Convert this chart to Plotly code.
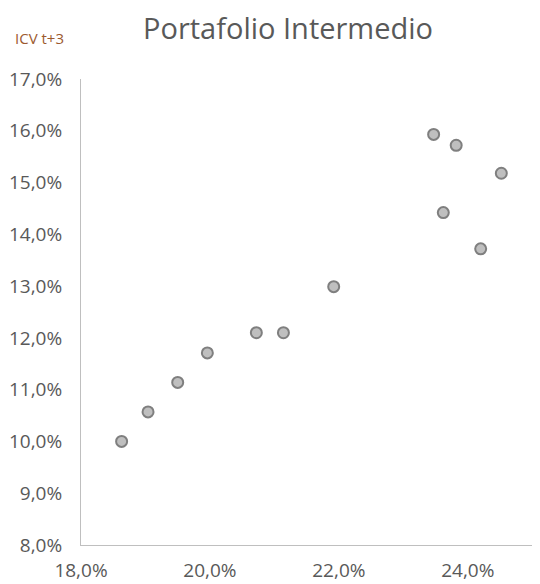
import plotly.graph_objects as go

# Data (percent values)
x_vals = [18.63, 19.04, 19.50, 19.96, 20.72, 21.14, 21.92, 23.47, 23.82, 24.52, 23.62, 24.20]
y_vals = [10.00, 10.57, 11.14, 11.71, 12.10, 12.10, 12.99, 15.93, 15.72, 15.18, 14.42, 13.72]

x_ticks = [18, 20, 22, 24]
x_ticktext = ["18,0%", "20,0%", "22,0%", "24,0%"]
y_ticks = [8, 9, 10, 11, 12, 13, 14, 15, 16, 17]
y_ticktext = ["8,0%", "9,0%", "10,0%", "11,0%", "12,0%", "13,0%", "14,0%", "15,0%", "16,0%", "17,0%"]

title_text = "Portafolio Intermedio"
y_label = "ICV t+3"

# The page body has an 8px margin, so the figure is sized/placed to compensate
OFF = 8
W, H = 540 - OFF, 584 - OFF
ML, MR, MT, MB = 81 - OFF, 0, 79 - OFF, 39

fig = go.Figure()
fig.add_trace(go.Scatter(
    x=x_vals, y=y_vals, mode="markers",
    marker=dict(size=11, color="#BFBFBF", line=dict(color="#7F7F7F", width=2)),
    showlegend=False, hoverinfo="x+y",
))

font_family = "Open Sans, Lato, sans-serif"

fig.update_layout(
    width=W, height=H,
    margin=dict(l=ML, r=MR, t=MT, b=MB, autoexpand=False),
    paper_bgcolor="white", plot_bgcolor="white",
    title=dict(text=title_text, x=(288 - OFF) / W, xref="container", xanchor="center",
               y=1 - (29 - OFF) / H, yref="container", yanchor="middle",
               font=dict(family=font_family, size=29, color="#595959")),
    xaxis=dict(range=[18, 25.12], tickvals=x_ticks, ticktext=x_ticktext, automargin=False,
               showgrid=False, zeroline=False, showline=True, linecolor="#BFBFBF", linewidth=1,
               ticks="", tickfont=dict(family=font_family, size=19, color="#595959"),
               ticklabelstandoff=8),
    yaxis=dict(range=[8, 17], tickvals=y_ticks, ticktext=y_ticktext, automargin=False,
               showgrid=False, zeroline=False, showline=True, linecolor="#BFBFBF", linewidth=1,
               ticks="", tickfont=dict(family=font_family, size=19, color="#595959"),
               ticklabelstandoff=14),
)

plot_w = W - ML - MR
plot_h = H - MT - MB
fig.add_annotation(text=y_label, xref="paper", yref="paper",
                   x=(13 - 81) / plot_w, y=(H - MB - (38 - OFF)) / plot_h,
                   xanchor="left", yanchor="middle", showarrow=False,
                   font=dict(family=font_family, size=15, color="#9C5A2F"))

fig.write_html("out.html")
